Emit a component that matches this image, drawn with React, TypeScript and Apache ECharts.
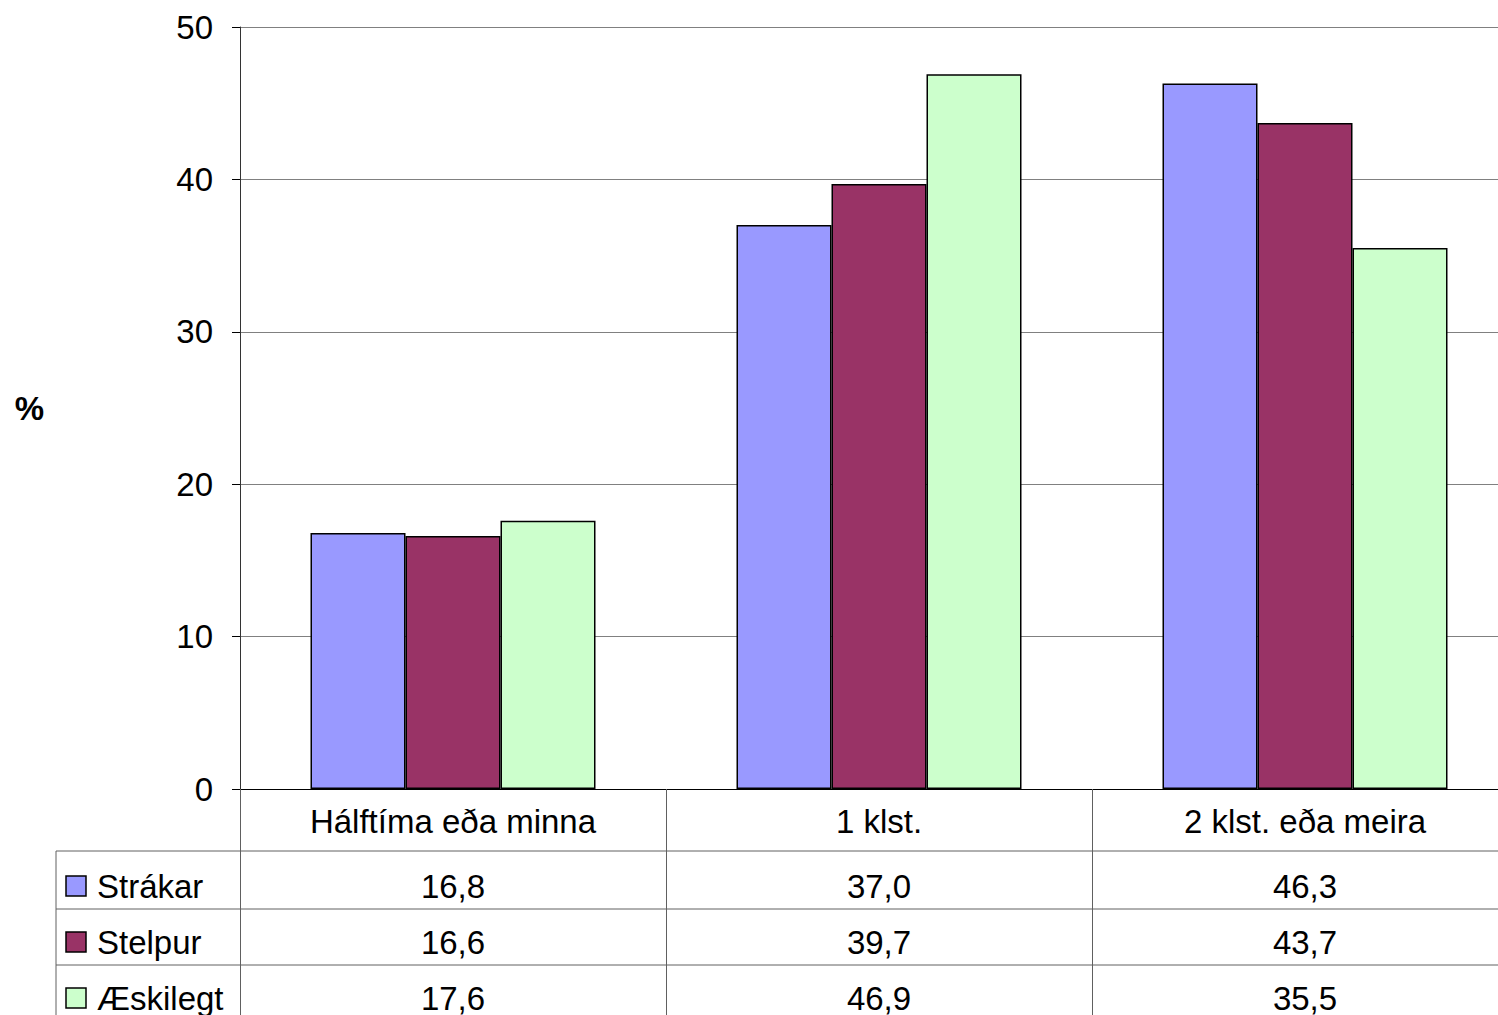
import React, { useEffect, useRef } from "react";
import * as echarts from "echarts";

const categories = ["Hálftíma eða minna", "1 klst.", "2 klst. eða meira"];
const seriesNames = ["Strákar", "Stelpur", "Æskilegt"];
const strakar = [16.8, 37.0, 46.3];
const stelpur = [16.6, 39.7, 43.7];
const aeskilegt = [17.6, 46.9, 35.5];
const seriesValues = [strakar, stelpur, aeskilegt];
const seriesColors = ["#9999FF", "#993366", "#CCFFCC"];
const yMin = 0;
const yMax = 50;
const yInterval = 10;
const yName = "%";

const FONT = "'Liberation Sans', Arial, sans-serif";

const fmt = (v: number) => v.toFixed(1).replace(".", ",");

export default function App() {
  const ref = useRef<HTMLDivElement>(null);
  useEffect(() => {
    if (!ref.current) return;
    const chart = echarts.init(ref.current, null, { renderer: "svg" });
    const gridLeft = 240;
    const gridTop = 27;
    const gridBottom = 226;
    const option: any = {
      animation: false,
      textStyle: { fontFamily: FONT },
      grid: {
        left: gridLeft,
        top: gridTop,
        right: -20,
        bottom: gridBottom,
        containLabel: false,
        outerBoundsMode: "none",
      },
      xAxis: {
        type: "category",
        data: categories,
        axisLine: { show: true, lineStyle: { color: "#000", width: 1 } },
        axisTick: { show: true, length: 230, lineStyle: { color: "#606060", width: 1 } },
        axisLabel: {
          fontSize: 33,
          color: "#000",
          fontFamily: FONT,
          margin: 32,
          verticalAlign: "middle",
          interval: 0,
        },
        splitLine: { show: false },
      },
      yAxis: {
        type: "value",
        min: yMin,
        max: yMax,
        interval: yInterval,
        name: yName,
        nameLocation: "middle",
        nameRotate: 0,
        nameGap: 196,
        nameTextStyle: { fontSize: 33, fontWeight: "bold", color: "#000", fontFamily: FONT },
        axisLine: { show: true, lineStyle: { color: "#333", width: 1 } },
        axisTick: { show: true, length: 8, lineStyle: { color: "#000" } },
        axisLabel: { fontSize: 33, color: "#000", fontFamily: FONT, margin: 27 },
        splitLine: { show: true, lineStyle: { color: "#808080", width: 1 } },
      },
      series: seriesNames.map((name, i) => ({
        name,
        type: "bar",
        data: seriesValues[i],
        barWidth: 95,
        barGap: "0%",
        itemStyle: { color: seriesColors[i], borderColor: "#000", borderWidth: 1.5 },
      })),
    };
    chart.setOption(option);

    const xs = categories.map((c) => chart.convertToPixel({ xAxisIndex: 0 }, c) as number);
    const y0 = chart.convertToPixel({ yAxisIndex: 0 }, yMin) as number;
    const headerH = 62;
    const rowTops = [y0 + headerH, y0 + headerH + 58, y0 + headerH + 114];
    const graphics: any[] = [];
    rowTops.forEach((yy) => {
      graphics.push({
        type: "line",
        shape: { x1: 56, y1: yy, x2: 1498, y2: yy },
        style: { stroke: "#606060", lineWidth: 1 },
        silent: true,
      });
    });
    graphics.push({
      type: "line",
      shape: { x1: 56, y1: rowTops[0], x2: 56, y2: 1015 },
      style: { stroke: "#606060", lineWidth: 1 },
      silent: true,
    });
    seriesValues.forEach((vals, r) => {
      const ty = rowTops[r] + (r === 0 ? 35 : 33);
      graphics.push({
        type: "rect",
        shape: { x: 66, y: ty - 10, width: 20, height: 20 },
        style: { fill: seriesColors[r], stroke: "#000", lineWidth: 1.5 },
        silent: true,
      });
      graphics.push({
        type: "text",
        x: 97,
        y: ty,
        style: {
          text: seriesNames[r],
          fontSize: 33,
          fontFamily: FONT,
          fill: "#000",
          textAlign: "left",
          textVerticalAlign: "middle",
        },
        silent: true,
      });
      vals.forEach((v, c) => {
        graphics.push({
          type: "text",
          x: xs[c],
          y: ty,
          style: {
            text: fmt(v),
            fontSize: 33,
            fontFamily: FONT,
            fill: "#000",
            textAlign: "center",
            textVerticalAlign: "middle",
          },
          silent: true,
        });
      });
    });
    chart.setOption({ graphic: graphics });

    return () => chart.dispose();
  }, []);
  return (
    <div
      ref={ref}
      style={{ position: "absolute", left: 0, top: 0, width: 1498, height: 1015, background: "#fff" }}
    />
  );
}
